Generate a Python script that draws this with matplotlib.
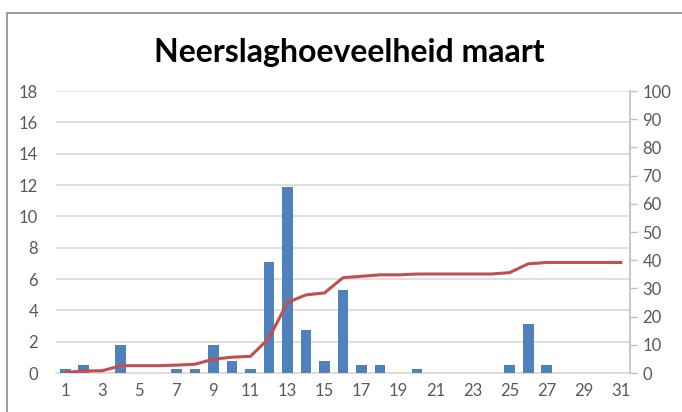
import matplotlib.pyplot as plt
from matplotlib.patches import Rectangle

# daily precipitation in March (mm)
days = list(range(1, 32))
rain = [0.25, 0.5, 0, 1.8, 0, 0, 0.25, 0.25, 1.8, 0.75,
        0.25, 7.1, 11.9, 2.75, 0.75, 5.3, 0.5, 0.5, 0, 0.25,
        0, 0, 0, 0, 0.5, 3.1, 0.5, 0, 0, 0, 0]
# cumulative amount (right axis)
cumulative = [0.2, 0.7, 0.8, 2.6, 2.6, 2.6, 2.8, 3.1, 4.9, 5.6,
              5.9, 12.3, 25.0, 27.7, 28.4, 33.8, 34.3, 34.8, 34.8, 35.1,
              35.1, 35.1, 35.1, 35.1, 35.6, 38.7, 39.2, 39.2, 39.2, 39.2, 39.2]

plt.rcParams['font.family'] = ['Lato', 'DejaVu Sans']
grey_txt = '#595959'
grid_col = '#D9D9D9'

fig = plt.figure(figsize=(6.82, 4.12), dpi=100)
# chart frame (only top/left edge visible in the crop)
fig.patches.append(Rectangle((7 / 682, -0.1), 1.2, 1 - 12.5 / 412 + 0.1,
                             transform=fig.transFigure, fill=False,
                             edgecolor='#8C8C8C', linewidth=1.2))

ax = fig.add_axes([56 / 682, 1 - 373 / 412, (630 - 56) / 682, (373 - 91) / 412])
ax.bar(days, rain, width=0.58, color='#4F81BD', zorder=3)
ax.set_xlim(0.5, 31.5)
ax.set_ylim(0, 18)
ax.set_yticks(range(0, 19, 2))
ax.set_xticks(range(1, 32, 2))
ax.grid(axis='y', color=grid_col, linewidth=1.2, zorder=0)
for s in ['top', 'left', 'right']:
    ax.spines[s].set_visible(False)
ax.spines['bottom'].set_color(grid_col)
ax.spines['bottom'].set_linewidth(1.2)
ax.tick_params(axis='y', length=0, pad=13, labelsize=12, labelcolor=grey_txt)
ax.tick_params(axis='x', length=0, pad=7, labelsize=12, labelcolor=grey_txt)

ax2 = ax.twinx()
ax2.plot(days, cumulative, color='#C0504D', linewidth=2.2, zorder=4)
ax2.set_ylim(0, 100)
ax2.set_yticks(range(0, 101, 10))
for s in ['top', 'left', 'bottom']:
    ax2.spines[s].set_visible(False)
ax2.spines['right'].set_color('#BFBFBF')
ax2.spines['right'].set_linewidth(1.2)
ax2.tick_params(axis='y', length=5, width=1, color='#BFBFBF', pad=4,
                labelsize=12, labelcolor=grey_txt)

fig.text(0.512, 1 - 62 / 412, 'Neerslaghoeveelheid maart', ha='center', va='baseline',
         fontsize=23, fontweight='bold', color='black')

plt.savefig('out.png', dpi=100)
